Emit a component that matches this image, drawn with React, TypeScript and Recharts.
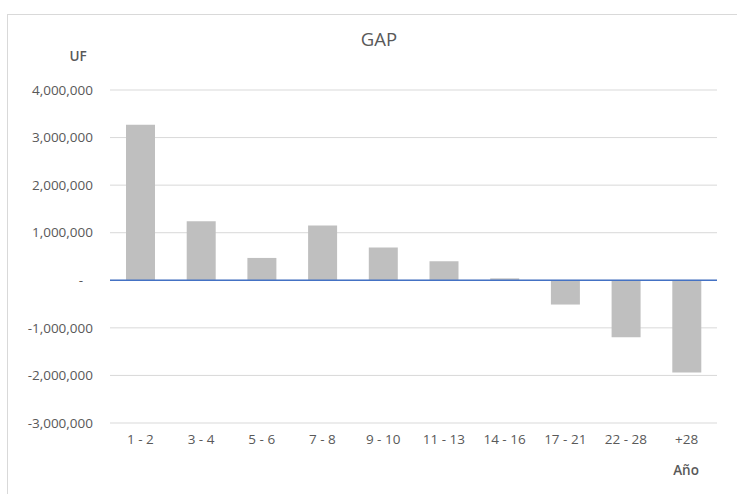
import React from "react";
import { BarChart, Bar, XAxis, YAxis, CartesianGrid, ReferenceLine } from "recharts";

const categories = ["1 - 2", "3 - 4", "5 - 6", "7 - 8", "9 - 10", "11 - 13", "14 - 16", "17 - 21", "22 - 28", "+28"];
const gapValues = [3270000, 1240000, 470000, 1150000, 690000, 400000, 40000, -510000, -1200000, -1940000];
const yTicks = [-3000000, -2000000, -1000000, 0, 1000000, 2000000, 3000000, 4000000];

const data = categories.map((c, i) => ({ name: c, gap: gapValues[i] }));

const FONT = "'Open Sans', 'Liberation Sans', sans-serif";
const TEXT = "#595959";

const YTick = (props: any) => {
  const { x, y, payload } = props;
  const v = payload.value as number;
  const label = v === 0 ? "-" : v.toLocaleString("en-US");
  return (
    <text x={v === 0 ? x - 10 : x} y={y} dy="0.35em" textAnchor="end" fill={TEXT} fontSize={13.5} fontFamily={FONT}>
      {label}
    </text>
  );
};

export default function App() {
  return (
    <div style={{ position: "absolute", left: 0, top: 0, width: 737, height: 494, overflow: "hidden", background: "#fff" }}>
      <div style={{ position: "absolute", left: 7, top: 14, width: 760, height: 520, borderLeft: "1.5px solid #D9D9D9", borderTop: "1.5px solid #D9D9D9" }} />
      <BarChart
        width={737}
        height={494}
        data={data}
        margin={{ top: 90, right: 20, bottom: 41, left: 0 }}
        barSize={29}
      >
        <CartesianGrid vertical={false} stroke="#D9D9D9" strokeWidth={1} />
        <XAxis
          dataKey="name"
          axisLine={false}
          tickLine={false}
          tickSize={0}
          tickMargin={11}
          height={30}
          interval={0}
          tick={{ fill: TEXT, fontSize: 13.5, fontFamily: FONT }}
        />
        <YAxis
          width={110}
          domain={[-3000000, 4000000]}
          ticks={yTicks}
          axisLine={false}
          tickLine={false}
          tickSize={0}
          tickMargin={17}
          tick={<YTick />}
          interval={0}
        />
        <Bar dataKey="gap" fill="#BFBFBF" isAnimationActive={false} />
        <ReferenceLine y={0} stroke="#4472C4" strokeWidth={1.5} />
      </BarChart>
      <div style={{ position: "absolute", left: 329, top: 26, width: 100, textAlign: "center", fontFamily: FONT, fontSize: 18.5, color: TEXT, lineHeight: "26px" }}>
        GAP
      </div>
      <div style={{ position: "absolute", left: 58, top: 47, width: 40, textAlign: "center", fontFamily: FONT, fontSize: 13.5, fontWeight: 600, color: TEXT, lineHeight: "18px" }}>
        UF
      </div>
      <div style={{ position: "absolute", left: 661, top: 461, width: 50, textAlign: "center", fontFamily: FONT, fontSize: 13.5, fontWeight: 600, color: TEXT, lineHeight: "18px" }}>
        Año
      </div>
    </div>
  );
}
